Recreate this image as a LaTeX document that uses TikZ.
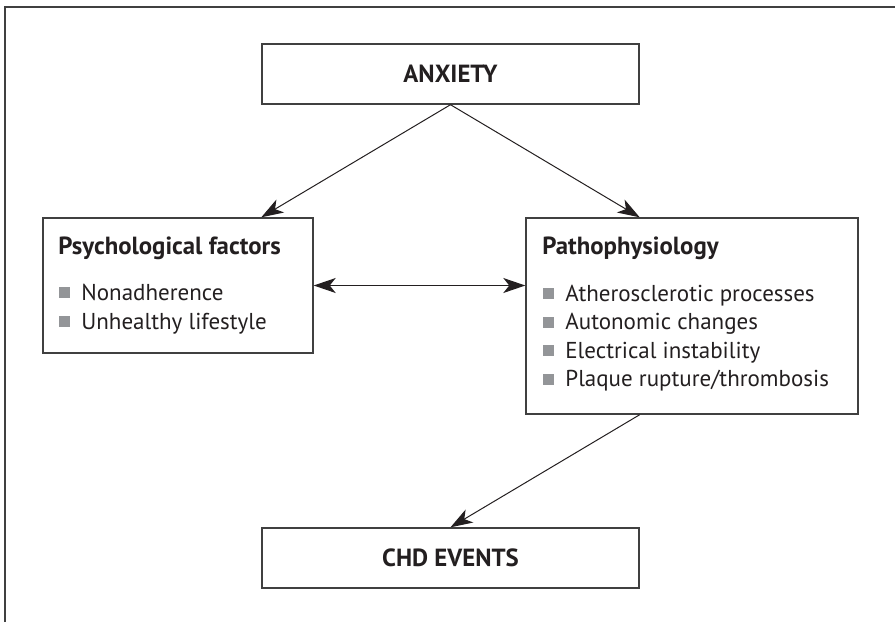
\documentclass[tikz,border=0pt]{standalone}
\usepackage{fontspec}
\setmainfont{PT Sans}
\usetikzlibrary{arrows.meta}

\definecolor{linegray}{HTML}{404040}
\definecolor{textblack}{HTML}{231F20}
\definecolor{bulletgray}{HTML}{939598}
\newcommand\figfont{\fontsize{11.5pt}{14pt}\selectfont}
\newcommand\headfont{\fontsize{12.4pt}{15pt}\selectfont\bfseries}
\newcommand\sqb{\textcolor{bulletgray}{\rule[1pt]{5.5pt}{5.5pt}}\hspace{5.5pt}}

\begin{document}
\begin{tikzpicture}[x=0.5pt, y=-0.5pt,
  box/.style={draw=linegray, line width=0.7pt, inner sep=0pt, text=textblack},
  head/.style={font=\headfont, text=textblack, anchor=base west, inner sep=0pt},
  item/.style={font=\figfont, text=textblack, anchor=base west, inner sep=0pt},
  tip/.tip={Stealth[length=11pt, width=7.5pt, inset=3pt]},
  link/.style={-tip, line width=0.5pt, textblack}]
\useasboundingbox (0,0) rectangle (895,622);
\draw [draw=linegray, line width=0.7pt] (5,622) -- (5,7) -- (895,7);

\node [box, minimum width=188.5pt, minimum height=30pt, font=\headfont] (anxiety) at (450.5,74) {ANXIETY};
\node [box, minimum width=135pt, minimum height=67.5pt] (psych) at (178,285.5) {};
\node [box, minimum width=166pt, minimum height=98pt] (patho) at (692,316) {};
\node [box, minimum width=188.5pt, minimum height=30pt, font=\headfont] (chd) at (450.5,558) {CHD EVENTS};

\node [head] (psychtitle) at (58,254.5) {Psychological factors};
\node [item] (nonadh) at (59,300) {\sqb Nonadherence};
\node [item] (lifestyle) at (59,329) {\sqb Unhealthy lifestyle};

\node [head] (pathotitle) at (542,254.5) {Pathophysiology};
\node [item] (athero) at (543,301) {\sqb Atherosclerotic processes};
\node [item] (autonomic) at (543,329.5) {\sqb Autonomic changes};
\node [item] (electric) at (543,358) {\sqb Electrical instability};
\node [item] (plaque) at (543,386.5) {\sqb Plaque rupture/thrombosis};

\draw [link] (anxiety.south) -- (anxiety.west |- psych.north);
\draw [link] (anxiety.south) -- (anxiety.east |- patho.north);
\draw [link, tip-tip] (psych.east) -- (patho.west |- psych.east);
\draw [link] (chd.east |- patho.south) -- (chd.north);
\end{tikzpicture}
\end{document}
